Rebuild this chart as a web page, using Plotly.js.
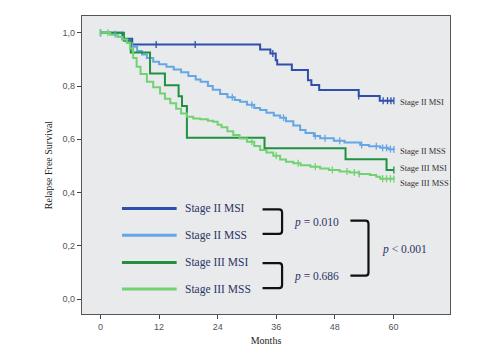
<!DOCTYPE html>
<html>
<head>
<meta charset="utf-8">
<script src="https://cdn.plot.ly/plotly-3.0.1.min.js"></script>
<style>html,body{margin:0;padding:0;background:#fff}#chart{width:500px;height:354px}</style>
</head>
<body>
<div id="chart"></div>
<script>
// ---- data (months, relapse free survival) ----
var seriesNames = ["Stage II MSI", "Stage II MSS", "Stage III MSI", "Stage III MSS"];

var msi2Months = [0, 4.5, 6.5, 32.7, 34.8, 35.9, 36.2, 39.2, 42.5, 43.2, 44.8, 52.9, 57.2, 60.1];
var msi2Surv   = [1.0, 0.978, 0.956, 0.937, 0.922, 0.897, 0.881, 0.860, 0.822, 0.804, 0.785, 0.763, 0.745, 0.745];
var msi2Censor = [0, 11.4, 19.4, 35.3, 52.9, 57.9, 58.8, 59.5, 60.1];

var mss2Months = [0, 2, 3.5, 4.5, 5.5, 6.5, 7.5, 8.5, 9.5, 10.8, 12, 13.5, 15, 16.5, 18, 19.5, 20.5, 22, 23, 24.5, 26, 27.5, 28.6, 30, 31.5, 32.7, 34, 35.5, 36.8, 38, 39.5, 40.9, 42, 43.7, 45, 47.8, 50, 53.2, 55, 57.3, 59, 60.1];
var mss2Surv   = [1.0, 0.995, 0.985, 0.975, 0.962, 0.948, 0.932, 0.918, 0.905, 0.891, 0.882, 0.872, 0.862, 0.852, 0.838, 0.825, 0.816, 0.800, 0.786, 0.770, 0.758, 0.748, 0.741, 0.730, 0.718, 0.710, 0.700, 0.689, 0.681, 0.668, 0.652, 0.635, 0.624, 0.612, 0.604, 0.595, 0.588, 0.579, 0.574, 0.568, 0.563, 0.562];
var mss2Censor = [0, 3, 27, 31, 37.5, 44, 46, 49, 53.5, 56.5, 57.8, 58.6, 59.4, 60.1];

var msi3Months = [0, 4.8, 6.2, 10.15, 13.2, 16.0, 16.7, 17.7, 33.6, 50.2, 58.6, 60.1];
var msi3Surv   = [1.0, 0.970, 0.926, 0.847, 0.803, 0.762, 0.725, 0.606, 0.566, 0.525, 0.485, 0.485];
var msi3Censor = [60.1];

var mss3Months = [0, 2, 3.5, 4.5, 5.4, 6.05, 6.7, 7.4, 8.2, 9.5, 10.8, 12.2, 13.2, 14.3, 15.5, 16.5, 17.7, 19, 20.4, 22, 23.1, 24, 24.8, 26, 27.2, 28.5, 30, 31.5, 32.7, 34, 35.4, 36.8, 38, 39.5, 41, 43, 45, 46.8, 49, 51.1, 53, 55.2, 56.5, 57.3, 60.1];
var mss3Surv   = [1.0, 0.993, 0.985, 0.975, 0.962, 0.941, 0.905, 0.872, 0.845, 0.816, 0.795, 0.772, 0.752, 0.735, 0.715, 0.697, 0.685, 0.678, 0.675, 0.670, 0.666, 0.655, 0.645, 0.630, 0.616, 0.603, 0.591, 0.575, 0.560, 0.550, 0.538, 0.524, 0.516, 0.510, 0.503, 0.497, 0.490, 0.485, 0.479, 0.475, 0.470, 0.466, 0.459, 0.452, 0.451];
var mss3Censor = [0, 1.5, 31, 36, 40.5, 44, 47.5, 50.5, 52, 53, 57.8, 58.6, 59.4, 60.1];

var xTicks = [0, 12, 24, 36, 48, 60];
var yTicks = [0, 0.2, 0.4, 0.6, 0.8, 1.0];
var pTexts = ["<i>p</i> = 0.010", "<i>p</i> = 0.686", "<i>p</i> &lt; 0.001"];

// ---- styling ----
var colors = ["#2f4fad", "#65a6e4", "#1f9140", "#72d272"];
var serif = "Liberation Serif";
var textNavy = "#2b3566";

var allMonths = [msi2Months, mss2Months, msi3Months, mss3Months];
var allSurv = [msi2Surv, mss2Surv, msi3Surv, mss3Surv];
var allCensor = [msi2Censor, mss2Censor, msi3Censor, mss3Censor];

function stepValue(months, surv, t) {
  var v = surv[0];
  for (var i = 0; i < months.length; i++) { if (months[i] <= t) v = surv[i]; }
  return v;
}

var traces = [];
for (var s = 0; s < 4; s++) {
  traces.push({
    x: allMonths[s], y: allSurv[s], type: "scatter", mode: "lines",
    line: {shape: "hv", color: colors[s], width: 2},
    name: seriesNames[s], showlegend: false, hoverinfo: "skip"
  });
}
for (var s = 0; s < 4; s++) {
  var cy = allCensor[s].map(function (t) { return stepValue(allMonths[s], allSurv[s], t); });
  traces.push({
    x: allCensor[s], y: cy, type: "scatter", mode: "markers",
    marker: {symbol: "line-ns", size: 5, line: {color: colors[s], width: 1.3}},
    showlegend: false, hoverinfo: "skip"
  });
}

// legend rows inside plot (data coordinates)
var legendY = [0.340, 0.240, 0.137, 0.0375];
var shapes = [];
var annotations = [];
for (var s = 0; s < 4; s++) {
  shapes.push({type: "line", xref: "x", yref: "y", x0: 4.4, x1: 15.6, y0: legendY[s], y1: legendY[s],
    line: {color: colors[s], width: 3}});
  annotations.push({xref: "x", yref: "y", x: 17.0, y: legendY[s], text: seriesNames[s], showarrow: false,
    xanchor: "left", yanchor: "middle", font: {family: serif, size: 11.5, color: textNavy}});
}
// end-of-curve labels
var endLabelY = [0.739, 0.556, 0.493, 0.435];
for (var s = 0; s < 4; s++) {
  annotations.push({xref: "x", yref: "y", x: 60.9, y: endLabelY[s], text: seriesNames[s], showarrow: false,
    xanchor: "left", yanchor: "middle", font: {family: serif, size: 8.5, color: "#333"}});
}
// brackets (x in months, y in survival units)
function bracket(x0, x1, yTop, yBot) {
  var r = 0.6, ry = 0.012;
  return {type: "path", xref: "x", yref: "y",
    path: "M" + x0 + "," + yTop + " L" + (x1 - r) + "," + yTop + " Q" + x1 + "," + yTop + " " + x1 + "," + (yTop - ry) +
          " L" + x1 + "," + (yBot + ry) + " Q" + x1 + "," + yBot + " " + (x1 - r) + "," + yBot + " L" + x0 + "," + yBot,
    line: {color: "#111", width: 2.2}};
}
shapes.push(bracket(33.2, 37.2, 0.337, 0.245));
shapes.push(bracket(33.2, 37.2, 0.135, 0.041));
shapes.push(bracket(51.2, 54.9, 0.295, 0.088));
annotations.push({xref: "x", yref: "y", x: 39.3, y: 0.289, text: pTexts[0], showarrow: false, xanchor: "left", yanchor: "middle",
  font: {family: serif, size: 11.5, color: textNavy}});
annotations.push({xref: "x", yref: "y", x: 39.3, y: 0.084, text: pTexts[1], showarrow: false, xanchor: "left", yanchor: "middle",
  font: {family: serif, size: 11.5, color: textNavy}});
annotations.push({xref: "x", yref: "y", x: 57.2, y: 0.185, text: pTexts[2], showarrow: false, xanchor: "left", yanchor: "middle",
  font: {family: serif, size: 11.5, color: textNavy}});

var layout = {
  width: 500, height: 354,
  margin: {l: 82, r: 50, t: 16, b: 40, pad: 0},
  paper_bgcolor: "#ffffff", plot_bgcolor: "#e9eaec",
  separators: ",.",
  showlegend: false,
  xaxis: {
    range: [-3.79, 71.6], tickvals: xTicks, ticktext: xTicks.map(String),
    ticks: "outside", ticklen: 4, tickwidth: 1, tickcolor: "#444",
    showline: true, mirror: true, linecolor: "#555", linewidth: 1.2,
    showgrid: false, zeroline: false,
    tickfont: {family: "Liberation Sans", size: 9, color: "#555"},
    title: {text: "Months", font: {family: serif, size: 10, color: "#222"}, standoff: 6}
  },
  yaxis: {
    range: [-0.056, 1.063], tickvals: yTicks, tickformat: ".1f",
    ticks: "outside", ticklen: 4, tickwidth: 1, tickcolor: "#444",
    showline: true, mirror: true, linecolor: "#555", linewidth: 1.2,
    showgrid: false, zeroline: false,
    tickfont: {family: "Liberation Sans", size: 9, color: "#555"},
    title: {text: "Relapse Free Survival", font: {family: serif, size: 10, color: "#222"}, standoff: 8}
  },
  shapes: shapes,
  annotations: annotations
};

Plotly.newPlot("chart", traces, layout, {displayModeBar: false, staticPlot: true});
</script>
</body>
</html>
